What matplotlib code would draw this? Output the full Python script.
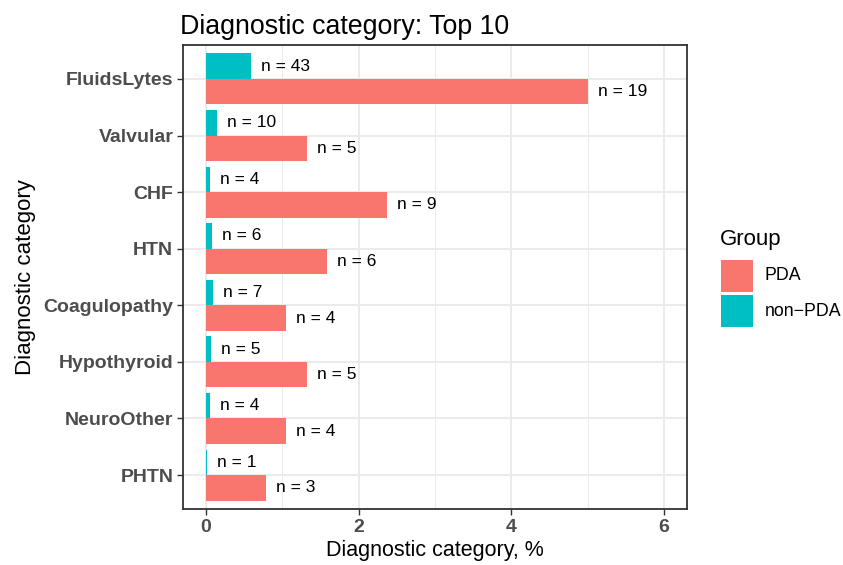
import matplotlib
matplotlib.use("Agg")
import matplotlib.pyplot as plt
from matplotlib.patches import Rectangle
import numpy as np

plt.rcParams['font.family'] = ['Liberation Sans', 'DejaVu Sans']

categories = ["FluidsLytes", "Valvular", "CHF", "HTN", "Coagulopathy", "Hypothyroid", "NeuroOther", "PHTN"]
pda_pct = [5.0, 1.32, 2.37, 1.58, 1.05, 1.32, 1.05, 0.79]
pda_n = [19, 5, 9, 6, 4, 5, 4, 3]
non_pct = [0.59, 0.14, 0.055, 0.082, 0.096, 0.068, 0.055, 0.014]
non_n = [43, 10, 4, 6, 7, 5, 4, 1]
groups = ["PDA", "non\u2212PDA"]
colors = ["#F8766D", "#00BFC4"]
xticks = [0, 2, 4, 6]

W, H = 843, 565
fig = plt.figure(figsize=(W/100, H/100), dpi=100)
ax = fig.add_axes([183/W, 1-509/H, 504/W, 464/H])

n = len(categories)
ypos = np.arange(n)[::-1] + 1  # top category highest
bw = 0.45
ax.barh(ypos - bw/2, pda_pct, height=bw, color=colors[0], zorder=3)
ax.barh(ypos + bw/2, non_pct, height=bw, color=colors[1], zorder=3)

off = 10 / 76.5
for y, v, c in zip(ypos, pda_pct, pda_n):
    ax.text(v + off, y - bw/2, f"n = {c}", va="center", ha="left", fontsize=12.5, color="black", zorder=4)
for y, v, c in zip(ypos, non_pct, non_n):
    ax.text(v + off, y + bw/2, f"n = {c}", va="center", ha="left", fontsize=12.5, color="black", zorder=4)

ax.set_xlim(-0.3, 6.3)
ax.set_ylim(0.4, n + 0.6)
ax.set_xticks(xticks)
ax.set_xticks([1, 3, 5], minor=True)
ax.set_yticks(ypos)
ax.set_yticklabels(categories)
ax.tick_params(axis="both", which="major", length=4, width=1, color="#333333",
               labelsize=14, labelcolor="#4D4D4D", pad=3)
ax.tick_params(axis="both", which="minor", length=0)
for lab in ax.get_xticklabels() + ax.get_yticklabels():
    lab.set_fontweight("bold")
ax.grid(which="major", color="#EBEBEB", linewidth=1.4, zorder=0)
ax.grid(which="minor", axis="x", color="#EBEBEB", linewidth=0.7, zorder=0)
for s in ax.spines.values():
    s.set_color("#333333")
    s.set_linewidth(1.3)
ax.set_axisbelow(True)

ax.set_xlabel("Diagnostic category, %", fontsize=15.5, labelpad=3)
ax.set_ylabel("Diagnostic category", fontsize=16, labelpad=5)
ax.set_title("Diagnostic category: Top 10", fontsize=19.3, loc="left", x=-0.005, pad=8)

# legend
fig.text(720/W, 1-240/H, "Group", fontsize=16, va="center", ha="left")
for i, (g, c) in enumerate(zip(groups, colors)):
    y0 = 260 + i * 35
    fig.patches.append(Rectangle((721/W, 1-(y0+32)/H), 32/W, 32/H, transform=fig.transFigure,
                                 facecolor=c, edgecolor="none"))
    fig.text(765/W, 1-(y0+16)/H, g, fontsize=12.8, va="center", ha="left")

fig.savefig("out.png", dpi=100)
